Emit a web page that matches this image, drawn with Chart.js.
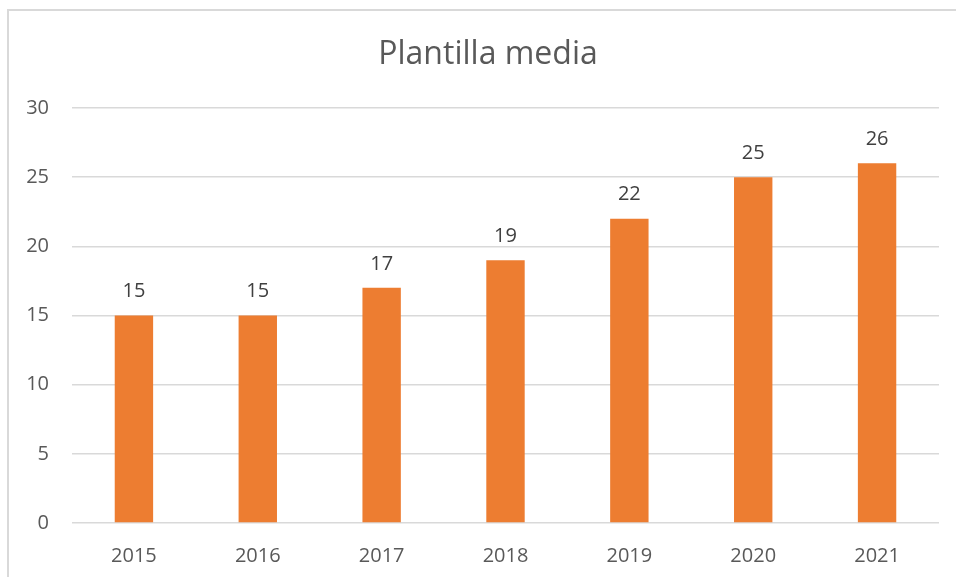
<!DOCTYPE html>
<html>
<head>
<meta charset="utf-8">
<script src="https://cdn.jsdelivr.net/npm/chart.js@4"></script>
<style>
  html, body { margin: 0; padding: 0; background: #fff; }
  #wrap { width: 956px; height: 577px; }
</style>
</head>
<body>
<div id="wrap"><canvas id="plantillaChart" width="956" height="577"></canvas></div>
<script>
var years = ['2015', '2016', '2017', '2018', '2019', '2020', '2021'];
var plantilla = [15, 15, 17, 19, 22, 25, 26];
var yTicks = [0, 5, 10, 15, 20, 25, 30];
var chartTitle = 'Plantilla media';

// frame round the chart and the title, centred on the frame like Excel does
var framePlugin = {
  id: 'frame',
  beforeDraw: function (chart) {
    var c = chart.ctx;
    c.save();
    c.strokeStyle = '#d9d9d9';
    c.lineWidth = 2;
    c.strokeRect(8, 10, 960, 580);
    c.fillStyle = '#595959';
    c.font = '32px "Open Sans"';
    c.textAlign = 'center';
    c.textBaseline = 'middle';
    c.fillText(chartTitle, 488, 55);
    c.restore();
  }
};

// value labels above each bar
var valuePlugin = {
  id: 'values',
  afterDatasetsDraw: function (chart) {
    var c = chart.ctx;
    var meta = chart.getDatasetMeta(0);
    c.save();
    c.fillStyle = '#404040';
    c.font = '20px "Open Sans"';
    c.textAlign = 'center';
    c.textBaseline = 'middle';
    meta.data.forEach(function (bar, i) {
      c.fillText(String(plantilla[i]), bar.x, bar.y - 24);
    });
    c.restore();
  }
};

var ctx = document.getElementById('plantillaChart').getContext('2d');
var myChart = new Chart(ctx, {
  type: 'bar',
  data: {
    labels: years,
    datasets: [{
      label: chartTitle,
      data: plantilla,
      backgroundColor: '#ed7d31',
      borderWidth: 0,
      categoryPercentage: 1,
      barPercentage: 0.31
    }]
  },
  options: {
    responsive: false,
    animation: false,
    layout: { padding: { left: 0, right: 17, top: 108, bottom: 0 } },
    plugins: {
      legend: { display: false },
      tooltip: { enabled: false },
      title: { display: false }
    },
    scales: {
      x: {
        grid: { display: false },
        border: { display: false },
        ticks: {
          color: '#595959',
          font: { family: 'Open Sans', size: 20 },
          padding: 13,
          maxRotation: 0
        },
        afterFit: function (scale) { scale.height = 54; }
      },
      y: {
        min: 0,
        max: 30,
        afterBuildTicks: function (scale) {
          scale.ticks = yTicks.map(function (v) { return { value: v }; });
        },
        grid: { color: '#d9d9d9', lineWidth: 1.5, drawTicks: false },
        border: { display: false },
        ticks: {
          color: '#595959',
          font: { family: 'Open Sans', size: 20 },
          padding: 23
        },
        afterFit: function (scale) { scale.width = 72; }
      }
    }
  },
  plugins: [framePlugin, valuePlugin]
});
</script>
</body>
</html>
